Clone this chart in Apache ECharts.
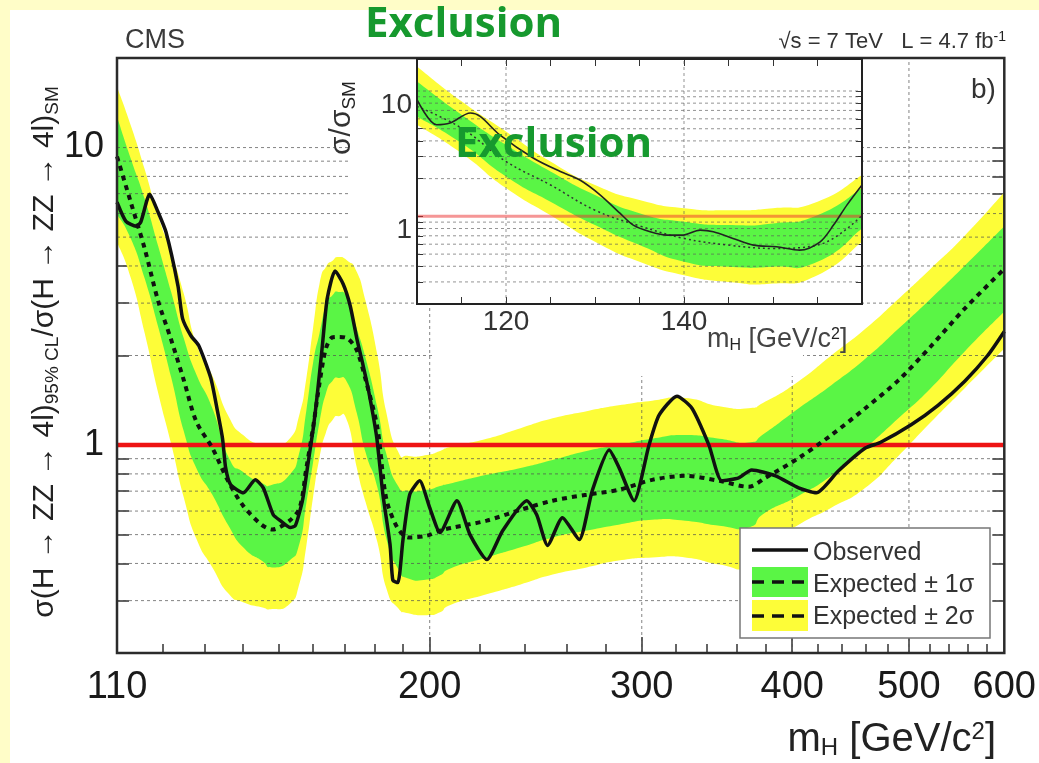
<!DOCTYPE html>
<html>
<head>
<meta charset="utf-8">
<title>CMS H → ZZ → 4l exclusion</title>
<script src="https://cdn.jsdelivr.net/npm/echarts@6/dist/echarts.min.js"></script>
<style>
  html, body { margin: 0; padding: 0; background: #fffdc8; }
  #chart { width: 1039px; height: 763px; }
</style>
</head>
<body>
<div id="chart"></div>
<script>
// ---- main plot (log m_H, log sigma/sigma_SM) ----
// mass grid shared by expected line and bands
var mass = [110,113,116,119,122,125,128,132,136,140,145,148,153,156,158,160,162,164,166,168,171,174,177,181,184,188,192,199,204,209,223,238,253,270,287,306,326,348,368,380,405,431,460,490,521,556,600];
var exp2Up = [16.0,11.8,8.44,5.88,4.45,3.22,2.19,1.71,1.26,1.08,1.00,1.00,1.05,1.28,1.68,2.46,3.48,3.97,4.16,4.29,4.16,3.82,3.03,2.00,1.30,0.962,0.919,0.926,0.955,0.99,1.05,1.14,1.23,1.30,1.36,1.41,1.44,1.35,1.33,1.40,1.64,2.00,2.46,3.10,3.91,5.04,7.07];
var exp1Up = [12.7,9.12,6.70,4.67,3.27,2.28,1.73,1.33,0.919,0.812,0.746,0.735,0.794,0.955,1.31,1.88,2.37,2.94,3.18,3.27,3.10,2.46,1.95,1.33,0.940,0.735,0.702,0.707,0.729,0.746,0.794,0.838,0.891,0.955,1.00,1.05,1.08,1.05,1.02,1.10,1.33,1.59,1.95,2.46,3.10,4.00,5.44];
var expected = [9.33,6.50,4.56,3.05,2.26,1.65,1.20,0.977,0.758,0.625,0.540,0.520,0.557,0.616,0.838,1.14,1.61,2.11,2.30,2.31,2.28,2.08,1.65,1.14,0.665,0.528,0.489,0.496,0.516,0.528,0.557,0.606,0.650,0.681,0.707,0.764,0.788,0.758,0.724,0.776,0.905,1.08,1.33,1.65,2.14,2.87,3.91];
var exp1Lo = [5.97,4.92,3.62,2.50,1.69,1.11,0.838,0.681,0.540,0.453,0.409,0.388,0.409,0.470,0.640,0.871,1.19,1.49,1.64,1.68,1.61,1.28,0.940,0.718,0.489,0.388,0.356,0.353,0.365,0.388,0.419,0.453,0.489,0.516,0.540,0.561,0.557,0.536,0.528,0.593,0.675,0.788,0.977,1.23,1.55,2.06,2.81];
var exp2Lo = [4.81,3.62,2.37,1.50,1.01,0.665,0.485,0.388,0.318,0.296,0.285,0.281,0.292,0.345,0.460,0.665,0.905,1.10,1.21,1.25,1.19,0.838,0.640,0.470,0.332,0.285,0.272,0.268,0.274,0.292,0.315,0.340,0.367,0.388,0.409,0.419,0.419,0.397,0.388,0.453,0.540,0.616,0.718,0.919,1.19,1.55,2.11];

var obsMass = [110,111.9,114.1,115.1,117.1,118.9,120.8,123.6,124.7,126.7,128.6,131.6,133.3,134.6,135.4,136.7,140.1,143.3,145.5,148.3,150.3,153.2,154.7,156.8,158.6,160.1,161.3,162.9,164.4,166.9,169.5,171.8,174.0,176.1,177.8,179.5,180.8,182.9,185.4,186.4,188.2,190.0,192.5,196.2,200.0,204.0,210.7,216.0,223.1,230.0,240.8,245.4,250.6,257.8,266.2,272.9,281.9,287.3,295.6,304.2,310.1,320.9,330.2,341.1,349.6,361.1,370.2,387.5,404.9,418.9,436.8,460.0,473.3,502.1,528.6,556.3,581.2,600];
var observed = [6.55,5.65,5.44,5.61,6.97,6.11,5.20,3.43,2.66,2.33,2.16,1.68,1.30,1.05,0.838,0.735,0.691,0.764,0.718,0.583,0.557,0.528,0.536,0.650,0.884,1.14,1.47,2.16,3.10,3.85,3.48,2.94,2.28,1.85,1.55,1.26,1.05,0.681,0.463,0.351,0.345,0.477,0.681,0.758,0.616,0.508,0.650,0.500,0.412,0.516,0.650,0.583,0.460,0.570,0.481,0.702,0.962,0.838,0.650,1.00,1.26,1.46,1.33,1.00,0.758,0.776,0.825,0.788,0.718,0.691,0.818,0.977,1.02,1.17,1.36,1.64,2.00,2.41];

var smLevel = 1;
var massRange = [110, 600];
var limitRange = [0.2, 20];

var mainLabelX = [110, 200, 300, 400, 500, 600];
var mainMajorTickX = [200, 300, 400, 500];
var mainTickX = [120,130,140,150,160,170,180,190,220,240,260,280,320,340,360,380,420,440,460,480,520,540,560,580];
var mainLabelY = [1, 10];
var mainTickY = [0.3,0.4,0.5,0.6,0.7,0.8,0.9,1,2,3,4,5,6,7,8,9,10];
var mainGridX = [200, 300, 400, 500];
var mainGridY = [0.3,0.4,0.5,0.6,0.7,0.8,0.9,2,3,4,5,6,7,8,9,10];

// ---- inset (linear m_H 110-160) ----
var insetMass = [110,115,120,125,130,135,140,145,150,155,160];
var insetExp2Up = [15.7,8.27,4.76,2.74,1.78,1.35,1.16,1.12,1.16,1.31,2.14];
var insetExp1Up = [11.9,6.47,3.72,2.28,1.48,1.06,0.906,0.852,0.879,1.02,1.68];
var insetExpected = [7.54,5.06,2.74,1.78,1.12,0.84,0.667,0.590,0.555,0.590,1.02];
var insetExp1Lo = [6.27,3.84,2.08,1.31,0.852,0.590,0.434,0.396,0.396,0.434,0.802];
var insetExp2Lo = [5.38,3.19,1.68,1.02,0.627,0.434,0.339,0.300,0.291,0.339,0.627];
var insetObsMass = [110,112.2,113.7,116.0,117.1,119.3,123.1,126.1,128.3,130.6,132.8,134.3,136.2,138.1,139.9,141.8,143.3,145.5,147.8,150.4,153.0,155.3,156.8,158.3,160];
var insetObserved = [8.53,5.38,5.55,6.67,6.27,4.47,2.91,2.28,1.95,1.48,1.06,0.852,0.754,0.709,0.709,0.777,0.754,0.667,0.590,0.572,0.538,0.627,0.852,1.23,1.78];

var insetRangeX = [110, 160];
var insetRangeY = [0.2, 18];
var insetLabelX = [120, 140];
var insetTickX = [115,120,125,130,135,140,145,150,155];
var insetLabelY = [1, 10];
var insetTickY = [0.3,0.4,0.5,0.6,0.7,0.8,0.9,1,2,3,4,5,6,7,8,9,10];
var insetGridX = [120, 140];
var insetGridY = [0.3,0.4,0.5,0.6,0.7,0.8,0.9,2,3,4,5,6,7,8,9,10];

var FONT = '"Liberation Sans", Arial, sans-serif';
var YELLOW = '#fdfd38';
var GREEN = '#5af545';
var GREEN_TEXT = '#16992e';

function zip(xs, ys) {
  return xs.map(function (x, i) { return [x, ys[i]]; });
}

// cardinal-spline path through pixel points (only the drawing is smoothed)
function splinePath(pts, t, moveFirst) {
  var d = (moveFirst ? 'M' : 'L') + pts[0][0] + ',' + pts[0][1];
  for (var i = 0; i < pts.length - 1; i++) {
    var p0 = pts[Math.max(i - 1, 0)], p1 = pts[i], p2 = pts[i + 1], p3 = pts[Math.min(i + 2, pts.length - 1)];
    var c1x = p1[0] + (p2[0] - p0[0]) * t / 3, c1y = p1[1] + (p2[1] - p0[1]) * t / 3;
    var c2x = p2[0] - (p3[0] - p1[0]) * t / 3, c2y = p2[1] - (p3[1] - p1[1]) * t / 3;
    d += 'C' + c1x + ',' + c1y + ' ' + c2x + ',' + c2y + ' ' + p2[0] + ',' + p2[1];
  }
  return d;
}

// the ±2σ and ±1σ bands plus the dashed grid on top of them, in one custom series
// so the drawing order is fixed; every point goes through api.coord (the axis scales)
function bandsWithGrid(name, xs, bands, grid, xi, yi, z) {
  return {
    name: name, type: 'custom', xAxisIndex: xi, yAxisIndex: yi, z: z, silent: true, clip: true,
    data: xs.map(function (x, i) { return [x, bands[0].lo[i], bands[0].up[i]]; }),
    encode: { x: 0, y: [1, 2] },
    renderItem: function (params, api) {
      if (params.dataIndex !== 0) return null;
      var kids = [];
      bands.forEach(function (b, k) {
        var upper = [], lower = [];
        for (var i = 0; i < xs.length; i++) {
          upper.push(api.coord([xs[i], b.up[i]]));
          lower.push(api.coord([xs[i], b.lo[i]]));
        }
        var d = splinePath(upper, 0.9, true) + splinePath(lower.reverse(), 0.9, false) + 'Z';
        kids.push({ type: 'path', z2: k, shape: { pathData: d, layout: 'cover' }, style: { fill: b.color } });
      });
      var seg = function (a, b) {
        kids.push({ type: 'line', z2: 10, shape: { x1: a[0], y1: a[1], x2: b[0], y2: b[1] },
          style: { stroke: grid.color, lineWidth: 1, lineDash: [3, 3] } });
      };
      grid.ys.forEach(function (v) { seg(api.coord([grid.xr[0], v]), api.coord([grid.xr[1], v])); });
      grid.xs.forEach(function (v) { seg(api.coord([v, grid.yr[0]]), api.coord([v, grid.yr[1]])); });
      return { type: 'group', children: kids };
    }
  };
}

function txt(x, y, text, opts) {
  var style = Object.assign({
    x: 0, y: 0, text: text, fill: '#222', fontFamily: FONT, fontSize: 22,
    align: 'left', verticalAlign: 'middle'
  }, opts.style || {});
  return { type: 'text', z: opts.z || 20, rotation: opts.rotation || 0, x: x, y: y, style: style, silent: true };
}

var subRich = function (size, pad) {
  return { fontSize: size, fontFamily: FONT, fill: '#222', padding: pad };
};

var series = [];
series.push(bandsWithGrid('Expected ± 1σ / ± 2σ', mass, [
  { lo: exp2Lo, up: exp2Up, color: YELLOW },
  { lo: exp1Lo, up: exp1Up, color: GREEN }
], { xs: mainGridX, ys: mainGridY, xr: massRange, yr: limitRange, color: 'rgba(80,80,80,0.7)' }, 0, 0, 2));
series.push({
  name: 'SM', type: 'line', xAxisIndex: 0, yAxisIndex: 0, z: 5, symbol: 'none', silent: true,
  data: [[massRange[0], smLevel], [massRange[1], smLevel]],
  lineStyle: { color: '#ee1414', width: 4.5 }
});
series.push({
  name: 'Expected', type: 'line', xAxisIndex: 0, yAxisIndex: 0, z: 6, symbol: 'none', smooth: 0.3,
  data: zip(mass, expected), silent: true,
  lineStyle: { color: '#111', width: 4, type: [5, 5] }
});
series.push({
  name: 'Observed', type: 'line', xAxisIndex: 0, yAxisIndex: 0, z: 7, symbol: 'none', smooth: 0.2,
  data: zip(obsMass, observed), silent: true,
  lineStyle: { color: '#111', width: 3.5 }
});

series.push(bandsWithGrid('inset bands', insetMass, [
  { lo: insetExp2Lo, up: insetExp2Up, color: YELLOW },
  { lo: insetExp1Lo, up: insetExp1Up, color: GREEN }
], { xs: insetGridX, ys: insetGridY, xr: insetRangeX, yr: insetRangeY, color: 'rgba(90,90,90,0.65)' }, 2, 2, 6));
series.push({
  name: 'inset SM', type: 'line', xAxisIndex: 2, yAxisIndex: 2, z: 8, symbol: 'none', silent: true,
  data: [[insetRangeX[0], smLevel], [insetRangeX[1], smLevel]],
  lineStyle: { color: 'rgba(235,45,45,0.5)', width: 3 }
});
series.push({
  name: 'inset Expected', type: 'line', xAxisIndex: 2, yAxisIndex: 2, z: 8, symbol: 'none', smooth: 0.4,
  data: zip(insetMass, insetExpected), silent: true,
  lineStyle: { color: '#333', width: 1.5, type: [2, 3] }
});
series.push({
  name: 'inset Observed', type: 'line', xAxisIndex: 2, yAxisIndex: 2, z: 9, symbol: 'none', smooth: 0.3,
  data: zip(insetObsMass, insetObserved), silent: true,
  lineStyle: { color: '#222', width: 1.6 }
});

var hidden = { show: false };

var option = {
  animation: false,
  backgroundColor: '#fffdc8',
  grid: [
    { left: 117, top: 58, width: 890, height: 595, show: true, z: 10,
      borderColor: '#2b2b2b', borderWidth: 2.5, backgroundColor: 'transparent' },
    { left: 417, top: 59, width: 445, height: 245, show: true, z: 10,
      borderColor: '#222', borderWidth: 2, backgroundColor: 'transparent' }
  ],
  xAxis: [
    { type: 'log', gridIndex: 0, min: massRange[0], max: massRange[1],
      axisLine: hidden, splitLine: hidden,
      axisTick: { inside: true, length: 9, customValues: mainTickX, lineStyle: { color: '#333', width: 1.5 } },
      axisLabel: { customValues: mainLabelX, fontSize: 38, fontFamily: FONT, color: '#1a1a1a', margin: 16 } },
    { type: 'log', gridIndex: 0, position: 'bottom', min: massRange[0], max: massRange[1],
      axisLine: hidden, splitLine: hidden, axisLabel: hidden,
      axisTick: { inside: true, length: 16, customValues: mainMajorTickX, lineStyle: { color: '#333', width: 1.5 } } },
    { type: 'value', gridIndex: 1, min: insetRangeX[0], max: insetRangeX[1], z: 5,
      axisLine: hidden, splitLine: hidden,
      axisTick: { inside: true, length: 7, customValues: insetTickX, lineStyle: { color: '#333' } },
      axisLabel: { customValues: insetLabelX, fontSize: 28, fontFamily: FONT, color: '#333', margin: 4 } },
    { type: 'value', gridIndex: 1, position: 'top', min: insetRangeX[0], max: insetRangeX[1], z: 5,
      axisLine: hidden, splitLine: hidden, axisLabel: hidden,
      axisTick: { inside: true, length: 7, customValues: insetTickX, lineStyle: { color: '#333' } } }
  ],
  yAxis: [
    { type: 'log', gridIndex: 0, min: limitRange[0], max: limitRange[1],
      axisLine: hidden, splitLine: hidden,
      axisTick: { inside: true, length: 12, customValues: mainTickY, lineStyle: { color: '#333', width: 1.5 } },
      axisLabel: { customValues: mainLabelY, fontSize: 36, fontFamily: FONT, color: '#1a1a1a', margin: 13 } },
    { type: 'log', gridIndex: 0, position: 'right', min: limitRange[0], max: limitRange[1],
      axisLine: hidden, splitLine: hidden, axisLabel: hidden,
      axisTick: { inside: true, length: 12, customValues: mainTickY, lineStyle: { color: '#333', width: 1.5 } } },
    { type: 'log', gridIndex: 1, min: insetRangeY[0], max: insetRangeY[1], z: 5,
      axisLine: hidden, splitLine: hidden,
      axisTick: { inside: true, length: 6, customValues: insetTickY, lineStyle: { color: '#333' } },
      axisLabel: { customValues: insetLabelY, fontSize: 28, fontFamily: FONT, color: '#333', margin: 5, verticalAlign: 'top' } },
    { type: 'log', gridIndex: 1, position: 'right', min: insetRangeY[0], max: insetRangeY[1], z: 5,
      axisLine: hidden, splitLine: hidden, axisLabel: hidden,
      axisTick: { inside: true, length: 6, customValues: insetTickY, lineStyle: { color: '#333' } } }
  ],
  graphic: [
    // white sheet on the pale yellow page
    { type: 'rect', z: -100, silent: true, shape: { x: 10, y: 10, width: 1029, height: 753 }, style: { fill: '#fff' } },
    // inset pad (hides the main grid lines behind the inset)
    { type: 'rect', z: 4, silent: true, shape: { x: 417, y: 59, width: 445, height: 245 }, style: { fill: '#fff' } },
    { type: 'rect', z: 4, silent: true, shape: { x: 348, y: 42, width: 69, height: 208 }, style: { fill: '#fff' } },
    { type: 'rect', z: 4, silent: true, shape: { x: 433, y: 304, width: 370, height: 72 }, style: { fill: '#fff' } },

    txt(125, 41, 'CMS', { style: { fontSize: 27, fill: '#3a3a3a' } }),
    txt(365, 25, 'Exclusion', { style: { fontSize: 42, fontWeight: 'bold', fontFamily: '"Open Sans", sans-serif', fill: GREEN_TEXT } }),
    txt(455, 145, 'Exclusion', { style: { fontSize: 42, fontWeight: 'bold', fontFamily: '"Open Sans", sans-serif', fill: GREEN_TEXT } }),
    txt(1006, 42, '√s = 7 TeV   L = 4.7 fb{sup|-1}', { style: { fontSize: 22, fill: '#333', align: 'right',
      rich: { sup: subRich(14, [0, 0, 10, 0]) } } }),
    txt(971, 90, 'b)', { style: { fontSize: 28, fill: '#333' } }),

    txt(45, 352, 'σ(H → ZZ → 4l){sub|95% CL}/σ(H → ZZ → 4l){sub|SM}', { rotation: Math.PI / 2,
      style: { fontSize: 30, align: 'center', rich: { sub: subRich(19, [16, 0, 0, 0]) } } }),
    txt(996, 740, 'm{sub|H} [GeV/c{sup|2}]', {
      style: { fontSize: 40, align: 'right', rich: { sub: subRich(24, [16, 0, 0, 0]), sup: subRich(24, [0, 0, 16, 0]) } } }),
    txt(342, 118, 'σ/σ{sub|SM}', { rotation: Math.PI / 2,
      style: { fontSize: 30, fill: '#333', align: 'center', rich: { sub: subRich(19, [16, 0, 0, 0]) } } }),
    txt(707, 340, 'm{sub|H} [GeV/c{sup|2}]', {
      style: { fontSize: 27, fill: '#444', rich: { sub: subRich(16, [11, 0, 0, 0]), sup: subRich(16, [0, 0, 11, 0]) } } }),

    // legend
    { type: 'rect', z: 20, silent: true, shape: { x: 740, y: 528, width: 250, height: 110 },
      style: { fill: '#fff', stroke: '#777', lineWidth: 1.5 } },
    { type: 'line', z: 21, silent: true, shape: { x1: 752, y1: 550, x2: 808, y2: 550 },
      style: { stroke: '#111', lineWidth: 3.5 } },
    { type: 'rect', z: 21, silent: true, shape: { x: 752, y: 567, width: 56, height: 30 }, style: { fill: GREEN } },
    { type: 'line', z: 22, silent: true, shape: { x1: 752, y1: 582, x2: 808, y2: 582 },
      style: { stroke: '#111', lineWidth: 3.5, lineDash: [12, 8] } },
    { type: 'rect', z: 21, silent: true, shape: { x: 752, y: 600, width: 56, height: 31 }, style: { fill: YELLOW } },
    { type: 'line', z: 22, silent: true, shape: { x1: 752, y1: 616, x2: 808, y2: 616 },
      style: { stroke: '#111', lineWidth: 3.5, lineDash: [12, 8] } },
    txt(813, 553, 'Observed', { z: 22, style: { fontSize: 25, fill: '#333' } }),
    txt(813, 585, 'Expected ± 1σ', { z: 22, style: { fontSize: 25, fill: '#333' } }),
    txt(813, 617, 'Expected ± 2σ', { z: 22, style: { fontSize: 25, fill: '#333' } })
  ],
  series: series
};

var chart = echarts.init(document.getElementById('chart'));
chart.setOption(option);
window.addEventListener('resize', function () { chart.resize(); });
</script>
</body>
</html>
